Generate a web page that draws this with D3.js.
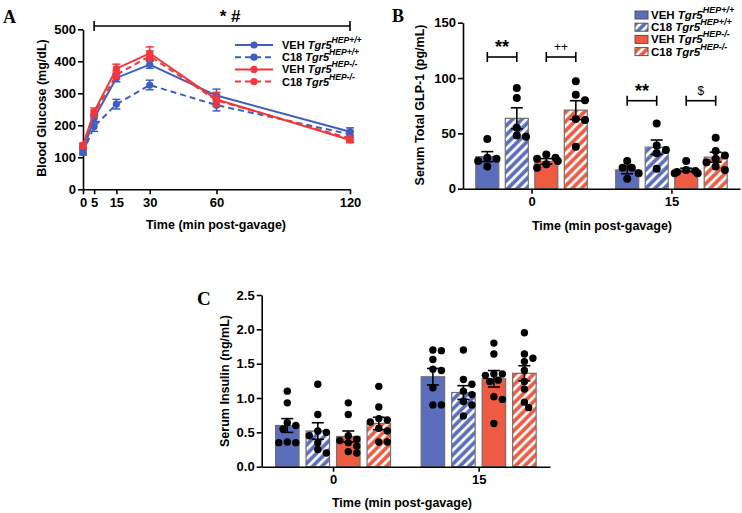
<!DOCTYPE html>
<html><head><meta charset="utf-8">
<script src="https://cdn.jsdelivr.net/npm/d3@7"></script>
<style>
body{margin:0;background:#fff;}
svg{display:block;font-family:"Liberation Sans",Arial,sans-serif;}
.axis path,.axis line{stroke:#000;stroke-width:1.6;}
.axis text{font-size:13px;font-weight:bold;fill:#000;font-family:"Liberation Sans",Arial,sans-serif;}
</style></head><body>
<svg id="chart" width="742" height="513"></svg>
<script>
// ---------- DATA ----------
const seriesKeys = ["VEHwt","C18wt","VEHko","C18ko"];
const seriesTreat = ["VEH","C18","VEH","C18"];
const seriesGeno = ["HEP+/+","HEP+/+","HEP-/-","HEP-/-"];

// Panel A: blood glucose (mg/dL)
const timesA = [0,5,15,30,60,120];
const glucVEHwt = [120,222,348,390,293,180];
const glucC18wt = [115,196,266,326,263,172];
const glucVEHko = [138,242,377,425,281,154];
const glucC18ko = [135,236,358,416,278,159];
const semGlucVEHwt = [8,12,12,12,20,12];
const semGlucC18wt = [8,15,15,15,18,10];
const semGlucVEHko = [6,12,14,20,22,8];
const semGlucC18ko = [6,10,12,16,15,8];
const yTicksA = [0,100,200,300,400,500];

// Panel B: GLP-1 (pg/mL)
const groupsB = ["0","15"];
const glpMeanVEHwt = [29,17];
const glpMeanC18wt = [63.6,37.5];
const glpMeanVEHko = [24.7,17];
const glpMeanC18ko = [71,28.5];
const glpSemVEHwt = [4.5,3.5];
const glpSemC18wt = [9.5,6.5];
const glpSemVEHko = [2.5,1.5];
const glpSemC18ko = [8.5,4.5];
const glpDotsVEHwt = [[45,28,27,25,20],[25,19,19,14,9]];
const glpDotsC18wt = [[91,82,55,48,47],[59,39,35,32,18]];
const glpDotsVEHko = [[31,28,27,25,22,19],[25,17,16,15,14,14]];
const glpDotsC18ko = [[97,85,80,63,62,38],[46,34,30,27,24,20,17]];
const yTicksB = [0,50,100,150];
const sigB = [
  {group:"0", from:0, to:1, label:"**", y:119, big:true},
  {group:"0", from:2, to:3, label:"++", y:119, big:false},
  {group:"15", from:0, to:1, label:"**", y:79.5, big:true},
  {group:"15", from:2, to:3, label:"$", y:79.5, big:false}
];

// Panel C: insulin (ng/mL)
const groupsC = ["0","15"];
const insMeanVEHwt = [0.60,1.31];
const insMeanC18wt = [0.52,1.08];
const insMeanVEHko = [0.44,1.28];
const insMeanC18ko = [0.63,1.36];
const insSemVEHwt = [0.10,0.12];
const insSemC18wt = [0.12,0.10];
const insSemVEHko = [0.08,0.12];
const insSemC18ko = [0.09,0.11];
const insDotsVEHwt = [[1.10,0.93,0.64,0.60,0.55,0.36,0.35,0.35],[1.70,1.69,1.56,1.42,1.40,1.15,0.90,0.90]];
const insDotsC18wt = [[1.20,0.76,0.52,0.50,0.45,0.35,0.25,0.20],[1.70,1.27,1.20,1.10,1.05,0.95,0.90,0.74]];
const insDotsVEHko = [[0.93,0.76,0.45,0.40,0.38,0.35,0.30,0.22,0.20],[1.80,1.64,1.35,1.35,1.33,1.26,1.24,1.02,0.98,0.63]];
const insDotsC18ko = [[1.17,0.87,0.70,0.68,0.65,0.56,0.52,0.36,0.36],[1.95,1.64,1.58,1.53,1.40,1.24,1.13,0.94,0.86]];
const yTicksC = [0,0.5,1.0,1.5,2.0,2.5];

// ---------- STYLE ----------
const lineBlue = "#3f5fc0", lineRed = "#f0373c";
const barBlue = "#5b6ebd", barRed = "#ef5a42";
const lineColors = [lineBlue,lineBlue,lineRed,lineRed];
const dashed = [false,true,false,true];

const svg = d3.select("#chart");
const defs = svg.append("defs");
function hatch(id,color){
  const p = defs.append("pattern").attr("id",id).attr("patternUnits","userSpaceOnUse")
    .attr("width",6.5).attr("height",6.5).attr("patternTransform","rotate(45)");
  p.append("rect").attr("width",6.5).attr("height",6.5).attr("fill",color);
  p.append("line").attr("x1",1.6).attr("x2",1.6).attr("y1",0).attr("y2",6.5)
    .attr("stroke","#fff").attr("stroke-width",2.8);
}
hatch("hBlue",barBlue); hatch("hRed",barRed);
const barFills = [barBlue,"url(#hBlue)",barRed,"url(#hRed)"];

function seriesLabel(g,i,x,y,fs){
  const t = g.append("text").attr("x",x).attr("y",y).attr("font-size",fs).attr("font-weight","bold")
    .attr("dominant-baseline","middle").attr("fill","#000");
  t.append("tspan").text(seriesTreat[i]+" ");
  t.append("tspan").attr("font-style","italic").text("Tgr5");
  t.append("tspan").attr("font-style","italic").attr("font-size",fs*0.78).attr("dy",-5).text(seriesGeno[i]);
}
function panelLetter(x,y,l,fs){
  svg.append("text").attr("x",x).attr("y",y).attr("font-family","'Liberation Serif','Times New Roman',serif")
    .attr("font-weight","bold").attr("font-size",fs).text(l);
}
function yTitle(x,y,txt){
  svg.append("text").attr("transform",`translate(${x},${y}) rotate(-90)`).attr("text-anchor","middle")
    .attr("font-size",12.5).attr("font-weight","bold").text(txt);
}
function xTitle(x,y,txt){
  svg.append("text").attr("x",x).attr("y",y).attr("text-anchor","middle")
    .attr("font-size",12.5).attr("font-weight","bold").text(txt);
}

// ---------- PANEL A ----------
const xA = d3.scaleLinear().domain([0,120]).range([83,350]);
const yA = d3.scaleLinear().domain([0,500]).range([189.3,29.3]);
const gA = svg.append("g");
gA.append("g").attr("class","axis").attr("transform","translate(0,189.3)")
  .call(d3.axisBottom(xA).tickValues(timesA).tickSize(5).tickSizeOuter(0).tickPadding(3));
gA.append("g").attr("class","axis").attr("transform","translate(83,0)")
  .call(d3.axisLeft(yA).tickValues(yTicksA).tickSize(5).tickSizeOuter(0).tickPadding(2));
const glucSeries = [glucVEHwt,glucC18wt,glucVEHko,glucC18ko];
const glucSem = [semGlucVEHwt,semGlucC18wt,semGlucVEHko,semGlucC18ko];
const lineGen = d3.line().x((d,i)=>xA(timesA[i])).y(d=>yA(d));
glucSeries.forEach((vals,s)=>{
  const g = gA.append("g");
  vals.forEach((v,i)=>{
    const x = xA(timesA[i]), lo = yA(v-glucSem[s][i]), hi = yA(v+glucSem[s][i]);
    g.append("line").attr("x1",x).attr("x2",x).attr("y1",lo).attr("y2",hi).attr("stroke",lineColors[s]).attr("stroke-width",1.5);
    [lo,hi].forEach(yy=>g.append("line").attr("x1",x-4).attr("x2",x+4).attr("y1",yy).attr("y2",yy).attr("stroke",lineColors[s]).attr("stroke-width",1.5));
  });
  g.append("path").attr("d",lineGen(vals)).attr("fill","none").attr("stroke",lineColors[s]).attr("stroke-width",2)
    .attr("stroke-dasharray",dashed[s]?"6,4":null);
  g.selectAll("circle").data(vals).join("circle").attr("cx",(d,i)=>xA(timesA[i])).attr("cy",d=>yA(d))
    .attr("r",3.6).attr("fill",lineColors[s]);
});
// significance bar A
{
  const x1 = xA(5), x2 = xA(120), yy = 26;
  gA.append("line").attr("x1",x1).attr("x2",x2).attr("y1",yy).attr("y2",yy).attr("stroke","#000").attr("stroke-width",1.6);
  [x1,x2].forEach(x=>gA.append("line").attr("x1",x).attr("x2",x).attr("y1",yy-5).attr("y2",yy+5).attr("stroke","#000").attr("stroke-width",1.6));
  gA.append("text").attr("x",(x1+x2)/2+8).attr("y",22).attr("text-anchor","middle").attr("font-size",17)
    .attr("font-weight","bold").text("* #");
}
// legend A
seriesKeys.forEach((k,i)=>{
  const yy = 45 + i*12.2;
  gA.append("line").attr("x1",235).attr("x2",273).attr("y1",yy).attr("y2",yy).attr("stroke",lineColors[i])
    .attr("stroke-width",2).attr("stroke-dasharray",dashed[i]?"6,4":null);
  gA.append("circle").attr("cx",254).attr("cy",yy).attr("r",3.6).attr("fill",lineColors[i]);
  seriesLabel(gA,i,282,yy+1,11);
});
panelLetter(3,23,"A",18);
yTitle(46,108,"Blood Glucose (mg/dL)");
xTitle(216,229,"Time (min post-gavage)");

// ---------- BAR PANEL helper ----------
function barPanel(cfg){
  const {groups,xRange,padding,y,yTicks,fmt,means,sems,dots,subHalf,subPadI,subPadO,r} = cfg;
  const xG = d3.scalePoint().domain(groups).range(xRange).padding(padding);
  const xS = d3.scaleBand().domain(seriesKeys).range([-subHalf,subHalf]).paddingInner(subPadI).paddingOuter(subPadO);
  const g = svg.append("g");
  groups.forEach((grp,gi)=>{
    seriesKeys.forEach((k,s)=>{
      const x0 = xG(grp)+xS(k), bw = xS.bandwidth(), cx = x0+bw/2;
      const m = means[s][gi], se = sems[s][gi];
      g.append("rect").attr("x",x0).attr("y",y(m)).attr("width",bw).attr("height",y(0)-y(m))
        .attr("fill",barFills[s]).attr("stroke","#707070").attr("stroke-width",1.2);
      const placed = [];
      const pts = dots[s][gi].map(v=>({py:y(v)})).sort((a,b)=>a.py-b.py);
      const steps = [0,1,-1,2,-2,3,-3,4,-4];
      pts.forEach(p=>{
        let dx = 0;
        for(const k2 of steps){
          const cand = k2*r*1.15;
          if(placed.every(q=>(cand-q.dx)**2+(p.py-q.py)**2 >= (2*r*0.92)**2)){dx=cand;break;}
        }
        p.dx = Math.max(-bw/2, Math.min(bw/2, dx));
        placed.push(p);
      });
      const lo = y(m-se), hi = y(m+se);
      g.append("line").attr("x1",cx).attr("x2",cx).attr("y1",lo).attr("y2",hi).attr("stroke","#000").attr("stroke-width",1.6);
      [lo,hi].forEach(yy=>g.append("line").attr("x1",cx-6).attr("x2",cx+6).attr("y1",yy).attr("y2",yy).attr("stroke","#000").attr("stroke-width",1.6));
      g.selectAll(null).data(placed).join("circle").attr("cx",d=>cx+d.dx).attr("cy",d=>d.py).attr("r",r).attr("fill","#000");
    });
  });
  g.append("g").attr("class","axis").attr("transform",`translate(0,${y(0)})`)
    .call(d3.axisBottom(xG).tickSize(5).tickSizeOuter(0).tickPadding(3));
  g.append("g").attr("class","axis").attr("transform",`translate(${xRange[0]},0)`)
    .call(d3.axisLeft(y).tickValues(yTicks).tickFormat(fmt).tickSize(5).tickSizeOuter(0).tickPadding(2));
  return {g,xG,xS};
}

// ---------- PANEL B ----------
const yB = d3.scaleLinear().domain([0,150]).range([188.7,22.7]);
const pB = barPanel({groups:groupsB,xRange:[463,740],padding:0.49,y:yB,yTicks:yTicksB,fmt:d3.format("d"),
  means:[glpMeanVEHwt,glpMeanC18wt,glpMeanVEHko,glpMeanC18ko],
  sems:[glpSemVEHwt,glpSemC18wt,glpSemVEHko,glpSemC18ko],
  dots:[glpDotsVEHwt,glpDotsC18wt,glpDotsVEHko,glpDotsC18ko],
  subHalf:59,subPadI:0.22,subPadO:0.11,r:4});
sigB.forEach(sg=>{
  const bw = pB.xS.bandwidth();
  const x1 = pB.xG(sg.group)+pB.xS(seriesKeys[sg.from])+bw/2;
  const x2 = pB.xG(sg.group)+pB.xS(seriesKeys[sg.to])+bw/2;
  const yy = yB(sg.y);
  pB.g.append("line").attr("x1",x1).attr("x2",x2).attr("y1",yy).attr("y2",yy).attr("stroke","#000").attr("stroke-width",1.6);
  [x1,x2].forEach(x=>pB.g.append("line").attr("x1",x).attr("x2",x).attr("y1",yy-5).attr("y2",yy+5).attr("stroke","#000").attr("stroke-width",1.6));
  pB.g.append("text").attr("x",(x1+x2)/2).attr("y",sg.big?yy-4:yy-6).attr("text-anchor","middle")
    .attr("font-size",sg.big?18:12).attr("font-weight",sg.big?"bold":"normal").attr("fill","#000").text(sg.label);
});
// legend B
seriesKeys.forEach((k,i)=>{
  const yy = 15 + i*12.2;
  svg.append("rect").attr("x",635).attr("y",yy-4).attr("width",13).attr("height",8)
    .attr("fill",barFills[i]).attr("stroke","#555").attr("stroke-width",1);
  seriesLabel(svg,i,651,yy+1,11.5);
});
panelLetter(392,22,"B",18);
yTitle(424,105,"Serum Total GLP-1 (pg/mL)");
xTitle(602,230,"Time (min post-gavage)");

// ---------- PANEL C ----------
const yC = d3.scaleLinear().domain([0,2.5]).range([466.7,295]);
barPanel({groups:groupsC,xRange:[261.7,550],padding:0.49,y:yC,yTicks:yTicksC,fmt:d3.format(".1f"),
  means:[insMeanVEHwt,insMeanC18wt,insMeanVEHko,insMeanC18ko],
  sems:[insSemVEHwt,insSemC18wt,insSemVEHko,insSemC18ko],
  dots:[insDotsVEHwt,insDotsC18wt,insDotsVEHko,insDotsC18ko],
  subHalf:61,subPadI:0.23,subPadO:0.115,r:3.7});
panelLetter(197,305,"C",19);
yTitle(229,381,"Serum Insulin (ng/mL)");
xTitle(402,507,"Time (min post-gavage)");
</script>
</body></html>
